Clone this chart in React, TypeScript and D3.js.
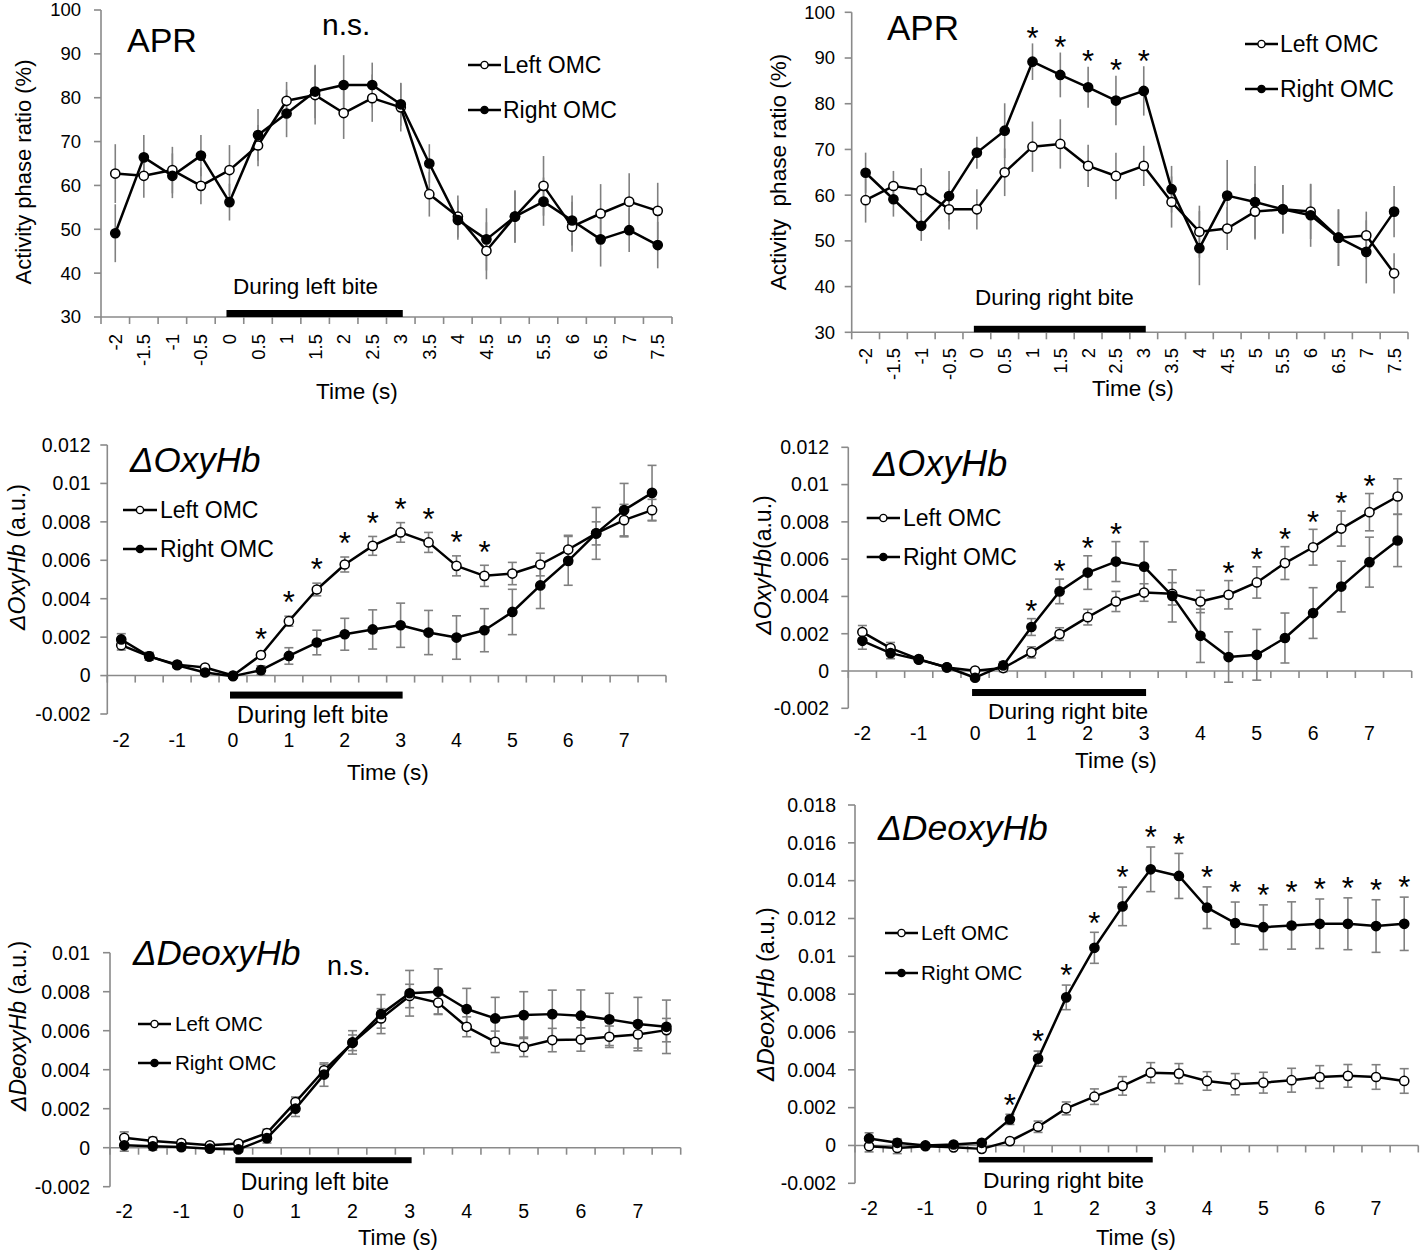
import * as d3 from "d3";

const FONT = "'Liberation Sans', Arial, sans-serif";
const AXIS = "#8a8a8a";
const ERR = "#808080";

const times = [-2, -1.5, -1, -0.5, 0, 0.5, 1, 1.5, 2, 2.5, 3, 3.5, 4, 4.5, 5, 5.5, 6, 6.5, 7, 7.5];

// APR during left bite (%)
const aprLbLeft = [62.7, 62.2, 63.5, 59.9, 63.5, 69.1, 79.3, 80.6, 76.5, 79.9, 77.8, 58.0, 52.9, 45.1, 52.9, 59.9, 50.6, 53.6, 56.3, 54.2];
const aprLbRight = [49.1, 66.4, 62.2, 66.8, 56.2, 71.5, 76.4, 81.4, 82.9, 82.9, 78.5, 65.0, 52.1, 47.7, 52.9, 56.3, 52.0, 47.7, 49.8, 46.4];
const aprLbLeftErr = [6.7, 5.0, 5.3, 4.2, 5.7, 4.7, 4.3, 6.7, 5.9, 5.4, 5.5, 5.1, 4.8, 6.5, 6.0, 6.8, 5.7, 6.7, 6.5, 6.4];
const aprLbRightErr = [6.6, 5.1, 5.1, 4.7, 4.2, 5.9, 5.4, 6.1, 6.8, 5.1, 4.9, 4.4, 4.5, 7.1, 5.8, 5.5, 5.7, 6.2, 5.0, 5.3];

// APR during right bite (%)
const aprRbLeft = [58.9, 62.0, 61.1, 56.9, 56.9, 65.0, 70.6, 71.2, 66.4, 64.2, 66.4, 58.5, 52.0, 52.7, 56.4, 56.9, 56.4, 50.7, 51.2, 42.9];
const aprRbRight = [64.9, 59.1, 53.3, 59.8, 69.3, 74.1, 89.2, 86.3, 83.6, 80.7, 82.8, 61.3, 48.4, 59.9, 58.5, 56.9, 55.6, 50.7, 47.6, 56.4];
const aprRbLeftErr = [4.9, 3.3, 4.8, 4.4, 4.4, 5.2, 5.5, 5.4, 4.6, 5.1, 4.4, 5.6, 5.7, 4.7, 6.1, 5.3, 6.0, 6.2, 5.2, 4.4];
const aprRbRightErr = [4.4, 3.8, 3.3, 5.5, 3.5, 6.0, 4.0, 4.9, 4.5, 5.4, 5.4, 5.1, 8.1, 7.8, 7.9, 5.3, 6.9, 6.2, 6.9, 5.6];
const aprRbSig = [1, 1.5, 2, 2.5, 3];

// dOxyHb during left bite (a.u.)
const oxyLbLeft = [0.00158, 0.0010, 0.00057, 0.00042, 0, 0.00107, 0.00283, 0.00448, 0.00578, 0.00675, 0.00745, 0.00693, 0.00571, 0.00519, 0.00531, 0.00578, 0.00656, 0.0074, 0.00809, 0.00861];
const oxyLbRight = [0.00188, 0.0010, 0.00054, 0.00016, -0.00003, 0.00028, 0.00102, 0.00172, 0.00215, 0.0024, 0.00262, 0.00224, 0.00198, 0.00236, 0.00331, 0.00469, 0.00597, 0.0074, 0.00861, 0.00951];
const oxyLbLeftErr = [0.00025, 0.0002, 0.00015, 0.0001, 0.00005, 0.0001, 0.00026, 0.00033, 0.00039, 0.00049, 0.00051, 0.00052, 0.00052, 0.00055, 0.00058, 0.00059, 0.00074, 0.0006, 0.00082, 0.00056];
const oxyLbRightErr = [0.0003, 0.0002, 0.00015, 0.0001, 0.00005, 0.00023, 0.00043, 0.00064, 0.00083, 0.00102, 0.00115, 0.00115, 0.00113, 0.00112, 0.00118, 0.0012, 0.00127, 0.00135, 0.00139, 0.00143];
const oxyLbSig = [0.5, 1, 1.5, 2, 2.5, 3, 3.5, 4, 4.5];

// dOxyHb during right bite (a.u.)
const oxyRbLeft = [0.00209, 0.00123, 0.00064, 0.00019, 0.00002, 0.00016, 0.001, 0.00198, 0.00289, 0.00373, 0.00421, 0.00414, 0.00373, 0.00409, 0.00475, 0.00579, 0.00664, 0.00764, 0.00852, 0.00936];
const oxyRbRight = [0.00162, 0.00096, 0.00061, 0.0002, -0.00036, 0.0003, 0.00236, 0.00427, 0.00528, 0.00587, 0.0056, 0.00403, 0.00189, 0.00075, 0.00087, 0.00177, 0.00311, 0.00453, 0.00584, 0.007];
const oxyRbLeftErr = [0.00035, 0.0003, 0.0001, 0.0001, 0.0001, 0.0002, 0.0003, 0.00034, 0.00042, 0.00054, 0.00047, 0.0006, 0.0006, 0.00076, 0.00084, 0.00088, 0.00096, 0.00094, 0.001, 0.00095];
const oxyRbRightErr = [0.00045, 0.0003, 0.0001, 0.0001, 0.0001, 0.0002, 0.00045, 0.00066, 0.0009, 0.00107, 0.00134, 0.0014, 0.00143, 0.00135, 0.00136, 0.00134, 0.00136, 0.00136, 0.00134, 0.0014];
const oxyRbSig = [1, 1.5, 2, 2.5, 4.5, 5, 5.5, 6, 6.5, 7];

// dDeoxyHb during left bite (a.u.)
const deoxyLbLeft = [0.00051, 0.00034, 0.00024, 0.00012, 0.00021, 0.00075, 0.00234, 0.00397, 0.00538, 0.00663, 0.00778, 0.00744, 0.0062, 0.00543, 0.00517, 0.00552, 0.00555, 0.00569, 0.00581, 0.00603];
const deoxyLbRight = [0.00012, 0.00007, 0.00003, -0.00005, -0.00009, 0.00049, 0.002, 0.00375, 0.0054, 0.00685, 0.00792, 0.008, 0.00711, 0.00663, 0.0068, 0.00685, 0.00677, 0.00658, 0.00634, 0.0062];
const deoxyLbLeftErr = [0.0003, 0.0002, 0.00015, 0.0001, 0.0001, 0.0002, 0.00026, 0.0003, 0.0004, 0.0005, 0.0006, 0.00058, 0.00051, 0.00055, 0.0005, 0.0006, 0.0006, 0.00055, 0.0007, 0.0006];
const deoxyLbRightErr = [0.0003, 0.0002, 0.00015, 0.0001, 0.0001, 0.00025, 0.0004, 0.0006, 0.0006, 0.001, 0.00117, 0.00117, 0.00106, 0.00108, 0.0012, 0.00123, 0.00132, 0.00134, 0.00137, 0.00137];

// dDeoxyHb during right bite (a.u.)
const deoxyRbLeft = [-0.00004, -0.00013, -0.00004, -0.0001, -0.00018, 0.00023, 0.00099, 0.00196, 0.00258, 0.00315, 0.00385, 0.0038, 0.00341, 0.00324, 0.00332, 0.00345, 0.00362, 0.00368, 0.00362, 0.00341];
const deoxyRbRight = [0.00037, 0.00014, 0, 0.00005, 0.00014, 0.00138, 0.00459, 0.00783, 0.01045, 0.01264, 0.0146, 0.01425, 0.01257, 0.01176, 0.01154, 0.01163, 0.01172, 0.01172, 0.0116, 0.01172];
const deoxyRbLeftErr = [0.0003, 0.0003, 0.0001, 0.0001, 0.0001, 0.0001, 0.0003, 0.00034, 0.00041, 0.00049, 0.00053, 0.00053, 0.00049, 0.00056, 0.00055, 0.00063, 0.0006, 0.0006, 0.00065, 0.00065];
const deoxyRbRightErr = [0.0003, 0.0002, 0.0001, 0.0001, 0.0001, 0.00027, 0.0004, 0.00065, 0.00082, 0.00102, 0.00118, 0.00119, 0.0011, 0.00111, 0.00118, 0.00125, 0.00131, 0.00137, 0.00139, 0.00141];
const deoxyRbSig = [0.5, 1, 1.5, 2, 2.5, 3, 3.5, 4, 4.5, 5, 5.5, 6, 6.5, 7, 7.5];

type Txt = { text?: string; x: number; y: number; size: number };

type PanelProps = {
  left: number[];
  right: number[];
  leftErr: number[];
  rightErr: number[];
  sig: number[];
  yDomain: [number, number];
  yStep: number;
  xAxisAt: number;
  axisX: number;
  x1: number;
  pxTop: number;
  pxBot: number;
  rotated: boolean;
  labelY: number;
  yTickRight: number;
  tickSize: number;
  yLabel: { x: number; y: number; italic?: string; rest: string; size: number };
  title: Txt & { italic: boolean };
  ns?: Txt;
  legend: { x0: number; x1: number; tx: number; y1: number; y2: number; size: number };
  bar: { top: number; h: number };
  bite: Txt;
  time: Txt;
  caps: boolean;
  sigGap: number;
};

function Panel(p: PanelProps) {
  const x = d3.scaleBand(times.map(String), [p.axisX, p.x1]);
  const bw = x.bandwidth();
  const cx = (t: number) => (x(String(t)) ?? 0) + bw / 2;
  const y = d3.scaleLinear(p.yDomain, [p.pxBot, p.pxTop]);
  const n = Math.round((p.yDomain[1] - p.yDomain[0]) / p.yStep);
  const yTicks = d3.range(n + 1).map(i => +(p.yDomain[0] + i * p.yStep).toFixed(4));
  const axisY = y(p.xAxisAt);
  const line = d3.line<number>().x((_, i) => cx(times[i])).y(v => y(v));
  const series = [
    { values: p.left, err: p.leftErr, open: true },
    { values: p.right, err: p.rightErr, open: false }
  ];
  const capW = 4.5;
  const legendRows = [
    { label: "Left OMC", open: true, y: p.legend.y1 },
    { label: "Right OMC", open: false, y: p.legend.y2 }
  ];
  const starSize = 31;

  return (
    <g>
      {/* axes */}
      <line x1={p.axisX} x2={p.axisX} y1={p.pxTop} y2={p.pxBot} stroke={AXIS} strokeWidth={1.6} />
      {yTicks.map(t => (
        <g key={t}>
          <line x1={p.axisX - 7} x2={p.axisX} y1={y(t)} y2={y(t)} stroke={AXIS} strokeWidth={1.6} />
          <text x={p.yTickRight} y={y(t)} dy="0.35em" textAnchor="end" fontSize={p.tickSize}>
            {String(t)}
          </text>
        </g>
      ))}
      <line x1={p.axisX} x2={p.x1} y1={axisY} y2={axisY} stroke={AXIS} strokeWidth={1.6} />
      {d3.range(times.length + 1).map(i => (
        <line key={i} x1={p.axisX + i * bw} x2={p.axisX + i * bw} y1={axisY} y2={axisY + 7} stroke={AXIS} strokeWidth={1.6} />
      ))}
      {times.map(t =>
        p.rotated ? (
          <text key={t} transform={`translate(${cx(t)},${p.labelY}) rotate(-90)`} dy="0.35em" textAnchor="end" fontSize={p.tickSize}>
            {String(t)}
          </text>
        ) : Number.isInteger(t) ? (
          <text key={t} x={cx(t)} y={p.labelY} textAnchor="middle" fontSize={p.tickSize}>
            {String(t)}
          </text>
        ) : null
      )}

      {/* bite period */}
      <rect x={cx(0) - 3} y={axisY + p.bar.top} width={cx(3) - cx(0) + 5} height={p.bar.h} fill="#000" />
      <text x={p.bite.x} y={p.bite.y} fontSize={p.bite.size}>{p.bite.text}</text>
      <text x={p.time.x} y={p.time.y} fontSize={p.time.size}>Time (s)</text>

      {/* error bars */}
      {series.map((s, si) =>
        s.values.map((v, i) => {
          const xx = cx(times[i]);
          const yt = y(v + s.err[i]);
          const yb = y(v - s.err[i]);
          return (
            <g key={`e${si}-${i}`} stroke={ERR} strokeWidth={1.6}>
              <line x1={xx} x2={xx} y1={yt} y2={yb} />
              {p.caps && <line x1={xx - capW} x2={xx + capW} y1={yt} y2={yt} />}
              {p.caps && <line x1={xx - capW} x2={xx + capW} y1={yb} y2={yb} />}
            </g>
          );
        })
      )}

      {/* series */}
      {series.map((s, si) => (
        <g key={`s${si}`}>
          <path d={line(s.values) ?? undefined} fill="none" stroke="#000" strokeWidth={2.5} strokeLinejoin="round" />
          {s.values.map((v, i) => (
            <circle key={i} cx={cx(times[i])} cy={y(v)} r={4.6} fill={s.open ? "#fff" : "#000"} stroke="#000" strokeWidth={1.5} />
          ))}
        </g>
      ))}

      {/* significance */}
      {p.sig.map(t => {
        const i = times.indexOf(t);
        const top = Math.min(y(p.left[i] + p.leftErr[i]), y(p.right[i] + p.rightErr[i]));
        return (
          <text key={`sig${t}`} x={cx(t)} y={top - p.sigGap + 0.59 * starSize} textAnchor="middle" fontSize={starSize}>
            *
          </text>
        );
      })}

      {/* title, n.s., y label */}
      <text x={p.title.x} y={p.title.y} fontSize={p.title.size} fontStyle={p.title.italic ? "italic" : "normal"}>
        {p.title.text}
      </text>
      {p.ns && (
        <text x={p.ns.x} y={p.ns.y} fontSize={p.ns.size}>n.s.</text>
      )}
      <text
        transform={`translate(${p.yLabel.x},${p.yLabel.y}) rotate(-90)`}
        dy="0.35em"
        textAnchor="middle"
        fontSize={p.yLabel.size}
        style={{ whiteSpace: "pre" }}
      >
        {p.yLabel.italic && <tspan fontStyle="italic">{p.yLabel.italic}</tspan>}
        <tspan>{p.yLabel.rest}</tspan>
      </text>

      {/* legend */}
      {legendRows.map(row => (
        <g key={row.label}>
          <line x1={p.legend.x0} x2={p.legend.x1} y1={row.y} y2={row.y} stroke="#000" strokeWidth={2.5} />
          <circle cx={(p.legend.x0 + p.legend.x1) / 2} cy={row.y} r={3.6} fill={row.open ? "#fff" : "#000"} stroke="#000" strokeWidth={1.4} />
          <text x={p.legend.tx} y={row.y} dy="0.35em" fontSize={p.legend.size}>{row.label}</text>
        </g>
      ))}
    </g>
  );
}

export default function App() {
  return (
    <svg
      width={1422}
      height={1255}
      viewBox="0 0 1422 1255"
      style={{ position: "absolute", left: 0, top: 0, background: "#fff" }}
      fontFamily={FONT}
    >
      <rect width={1422} height={1255} fill="#fff" />
      <Panel
        left={aprLbLeft} right={aprLbRight} leftErr={aprLbLeftErr} rightErr={aprLbRightErr} sig={[]}
        yDomain={[30, 100]} yStep={10} xAxisAt={30}
        axisX={101} x1={672} pxTop={10} pxBot={317}
        rotated labelY={334} yTickRight={81} tickSize={18.5}
        yLabel={{ x: 23, y: 172, rest: "Activity phase ratio (%)", size: 22 }}
        title={{ text: "APR", x: 127, y: 52, size: 34, italic: false }}
        ns={{ x: 322, y: 35, size: 30 }}
        legend={{ x0: 468, x1: 501, tx: 503, y1: 65, y2: 110, size: 23 }}
        bar={{ top: -7, h: 7 }}
        bite={{ text: "During left bite", x: 233, y: 294, size: 22.5 }}
        time={{ x: 316, y: 399, size: 22.5 }}
        caps={false} sigGap={13}
      />
      <Panel
        left={aprRbLeft} right={aprRbRight} leftErr={aprRbLeftErr} rightErr={aprRbRightErr} sig={aprRbSig}
        yDomain={[30, 100]} yStep={10} xAxisAt={30}
        axisX={851.7} x1={1408} pxTop={12.3} pxBot={332.3}
        rotated labelY={348} yTickRight={835} tickSize={18.5}
        yLabel={{ x: 778, y: 172, rest: "Activity  phase ratio (%)", size: 22.5 }}
        title={{ text: "APR", x: 887, y: 40, size: 35, italic: false }}
        legend={{ x0: 1245, x1: 1278, tx: 1280, y1: 44, y2: 89, size: 23 }}
        bar={{ top: -6.5, h: 6.5 }}
        bite={{ text: "During right bite", x: 975, y: 305, size: 22.5 }}
        time={{ x: 1092, y: 396, size: 22.5 }}
        caps={false} sigGap={13}
      />
      <Panel
        left={oxyLbLeft} right={oxyLbRight} leftErr={oxyLbLeftErr} rightErr={oxyLbRightErr} sig={oxyLbSig}
        yDomain={[-0.002, 0.012]} yStep={0.002} xAxisAt={0}
        axisX={107.3} x1={666} pxTop={445} pxBot={714}
        rotated={false} labelY={747} yTickRight={90.5} tickSize={19.5}
        yLabel={{ x: 17, y: 557, italic: "ΔOxyHb", rest: " (a.u.)", size: 23 }}
        title={{ text: "ΔOxyHb", x: 130, y: 472, size: 35, italic: true }}
        legend={{ x0: 123, x1: 157, tx: 160, y1: 510, y2: 549, size: 23 }}
        bar={{ top: 16, h: 7 }}
        bite={{ text: "During left bite", x: 237, y: 723, size: 23.5 }}
        time={{ x: 347, y: 780, size: 22.5 }}
        caps sigGap={21}
      />
      <Panel
        left={oxyRbLeft} right={oxyRbRight} leftErr={oxyRbLeftErr} rightErr={oxyRbRightErr} sig={oxyRbSig}
        yDomain={[-0.002, 0.012]} yStep={0.002} xAxisAt={0}
        axisX={848.3} x1={1411.7} pxTop={447.3} pxBot={708.3}
        rotated={false} labelY={740} yTickRight={829} tickSize={19.5}
        yLabel={{ x: 763, y: 565, italic: "ΔOxyHb", rest: "(a.u.)", size: 23 }}
        title={{ text: "ΔOxyHb", x: 873, y: 476, size: 36, italic: true }}
        legend={{ x0: 866.7, x1: 900, tx: 903, y1: 518, y2: 557, size: 23 }}
        bar={{ top: 18, h: 7 }}
        bite={{ text: "During right bite", x: 988, y: 719, size: 22.7 }}
        time={{ x: 1075, y: 768, size: 22.5 }}
        caps sigGap={15}
      />
      <Panel
        left={deoxyLbLeft} right={deoxyLbRight} leftErr={deoxyLbLeftErr} rightErr={deoxyLbRightErr} sig={[]}
        yDomain={[-0.002, 0.01]} yStep={0.002} xAxisAt={0}
        axisX={110} x1={680.7} pxTop={952.7} pxBot={1186.7}
        rotated={false} labelY={1218} yTickRight={90} tickSize={19.5}
        yLabel={{ x: 17.5, y: 1026, italic: "ΔDeoxyHb", rest: " (a.u.)", size: 23 }}
        title={{ text: "ΔDeoxyHb", x: 133, y: 965, size: 35, italic: true }}
        ns={{ x: 327, y: 975, size: 27 }}
        legend={{ x0: 138, x1: 171, tx: 175, y1: 1024, y2: 1063, size: 20.5 }}
        bar={{ top: 9.5, h: 6 }}
        bite={{ text: "During left bite", x: 240.7, y: 1190, size: 23 }}
        time={{ x: 358, y: 1245, size: 22 }}
        caps sigGap={17}
      />
      <Panel
        left={deoxyRbLeft} right={deoxyRbRight} leftErr={deoxyRbLeftErr} rightErr={deoxyRbRightErr} sig={deoxyRbSig}
        yDomain={[-0.002, 0.018]} yStep={0.002} xAxisAt={0}
        axisX={855} x1={1418.3} pxTop={805} pxBot={1183.3}
        rotated={false} labelY={1215} yTickRight={836} tickSize={19.5}
        yLabel={{ x: 766, y: 994, italic: "ΔDeoxyHb", rest: " (a.u.)", size: 23.5 }}
        title={{ text: "ΔDeoxyHb", x: 878, y: 840, size: 35.5, italic: true }}
        legend={{ x0: 885, x1: 918, tx: 921, y1: 933, y2: 973, size: 20.5 }}
        bar={{ top: 11.5, h: 5.5 }}
        bite={{ text: "During right bite", x: 983, y: 1188, size: 22.8 }}
        time={{ x: 1096, y: 1245, size: 22 }}
        caps sigGap={17}
      />
    </svg>
  );
}
